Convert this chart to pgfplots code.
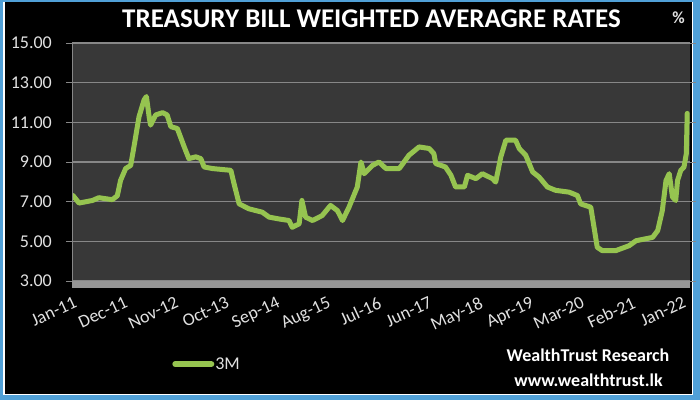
\documentclass[border=0pt]{standalone}
\usepackage{fontspec}
\setmainfont{Carlito}
\usepackage{pgfplots}
\pgfplotsset{compat=1.18}
\definecolor{frameblue}{RGB}{80,160,215}
\definecolor{plotbg}{RGB}{56,56,56}
\definecolor{gridgray}{RGB}{135,135,135}
\definecolor{bandgray}{RGB}{150,150,150}
\definecolor{linegreen}{RGB}{150,196,80}
\definecolor{labelgray}{RGB}{225,225,225}
\begin{document}
\begin{tikzpicture}
\fill[frameblue] (0,0) rectangle (700pt,400pt);
\fill[white] (3pt,5pt) rectangle (693pt,398pt);
\fill[black] (4.5pt,6.5pt) rectangle (691.5pt,397.5pt);
\begin{axis}[
  at={(72pt,119pt)}, anchor=south west,
  scale only axis, width=618pt, height=238pt,
  xmin=-0.22, xmax=133.7, ymin=3, ymax=15,
  axis background/.style={fill=plotbg},
  axis line style={draw=none},
  ytick={3,5,...,15},
  xtick={0,11,...,132},
  xticklabels={Jan-11,Dec-11,Nov-12,Oct-13,Sep-14,Aug-15,Jul-16,Jun-17,May-18,Apr-19,Mar-20,Feb-21,Jan-22},
  ymajorgrids, grid style={gridgray, line width=1.6pt},
  x tick style={draw=none},
  y tick style={gridgray, line width=1pt},
  major tick length=6pt, tick align=outside,
  /pgf/number format/assume math mode=true,
  yticklabel style={/pgf/number format/fixed, /pgf/number format/fixed zerofill, /pgf/number format/precision=2, anchor=east, inner sep=0pt, font=\fontsize{18}{20}\selectfont, text=labelgray},
  yticklabel shift=14pt,
  xticklabel style={rotate=25, anchor=north east, inner sep=0pt, font=\fontsize{18}{20}\selectfont, text=labelgray},
  xticklabel shift=9pt,
  legend style={at={(0.162,-0.349)}, anchor=west, draw=none, fill=none, text=labelgray, font=\fontsize{18}{20}\selectfont, inner sep=0pt, nodes={inner sep=1pt}},
  legend image code/.code={\draw[#1, line width=6pt, line cap=round] (3pt,0pt) -- (39pt,0pt);},
]
\addplot[linegreen, line width=5pt, line join=round, line cap=round] coordinates {
(0,7.31) (1.3,6.93) (4.2,7.06) (5.6,7.2) (8.5,7.1) (9.6,7.3) (10.3,8.07) (11.4,8.67)
(12.5,8.83) (13.2,9.76) (14.3,11.28) (15.4,12.13) (15.9,12.3) (16.5,11.28) (16.8,10.86)
(17.9,11.37) (19.4,11.49) (20.4,11.37) (21.2,10.78) (22.6,10.69) (24.1,9.76) (25.1,9.17)
(26.6,9.26) (27.7,9.17) (28.4,8.75) (30.2,8.67) (34.2,8.58) (34.9,7.9) (36.0,6.89)
(38.1,6.64) (41.0,6.47) (42.5,6.22) (44.6,6.13) (46.8,6.05) (47.5,5.71) (49.0,5.88)
(49.6,7.06) (50.4,6.22) (51.9,6.05) (54.0,6.3) (55.8,6.81) (57.3,6.55) (58.4,6.05)
(59.8,6.72) (61.6,7.74) (62.4,9.0) (63.1,8.41) (64.9,8.83) (66.3,9.0) (67.8,8.67)
(70.7,8.67) (72.8,9.34) (75.0,9.76) (77.2,9.68) (78.2,9.42) (78.6,8.92) (80.7,8.75)
(81.9,8.33) (82.9,7.74) (84.8,7.74) (85.5,8.33) (87.3,8.16) (88.7,8.41) (90.9,8.16)
(91.6,7.99) (92.7,9.26) (93.8,10.1) (95.9,10.1) (96.7,9.68) (98.1,9.34) (99.6,8.5)
(101.0,8.24) (102.8,7.74) (104.6,7.57) (107.5,7.48) (109.3,7.31) (110.0,6.89)
(112.2,6.72) (112.9,5.71) (113.6,4.7) (114.7,4.53) (117.6,4.53) (120.5,4.78)
(122.0,5.03) (125.6,5.2) (126.7,5.54) (127.7,6.55) (128.5,8.07) (129.2,8.41)
(129.9,7.23) (130.6,7.06) (131.0,8.07) (131.7,8.58) (132.4,8.75) (132.9,9.42) (133.1,11.45)
};
\addlegendentry{3M}
\end{axis}
\draw[bandgray, line width=7pt] (72pt,115.5pt) -- (690pt,115.5pt);
\draw[gridgray, line width=1.2pt] (72.6pt,119pt) -- (72.6pt,357pt);
\node[font=\bfseries\fontsize{27}{30}\selectfont, text=white, anchor=base] at (371.5pt,372pt) {TREASURY BILL WEIGHTED AVERAGRE RATES};
\node[font=\bfseries\fontsize{17}{20}\selectfont, text=labelgray, anchor=base] at (678.5pt,376pt) {\%};
\node[font=\bfseries\fontsize{18}{20}\selectfont, text=white] at (588pt,45pt) {WealthTrust Research};
\node[font=\bfseries\fontsize{18}{20}\selectfont, text=white] at (588.5pt,20pt) {www.wealthtrust.lk};
\pgfresetboundingbox
\useasboundingbox (0,0) rectangle (700pt,400pt);
\end{tikzpicture}
\end{document}
